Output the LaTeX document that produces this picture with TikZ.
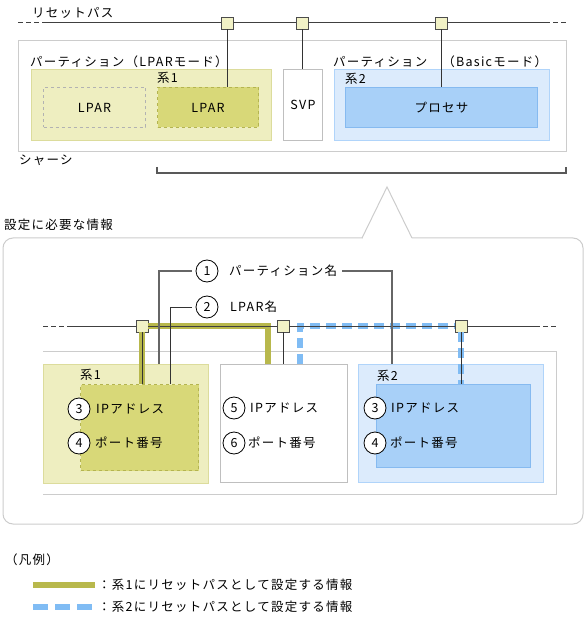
\documentclass[tikz,border=0pt]{standalone}
\usepackage{fontspec}
\setmainfont{Noto Sans CJK JP}[LetterSpace=10]
\usetikzlibrary{calc,backgrounds}
\definecolor{juncfill}{HTML}{F2F2C6}
\definecolor{sysonefill}{HTML}{EEEEC0}
\definecolor{sysoneline}{HTML}{DCDC9C}
\definecolor{lparfill}{HTML}{D8D878}
\definecolor{lparline}{HTML}{B4B450}
\definecolor{systwofill}{HTML}{DCEBFC}
\definecolor{systwoline}{HTML}{B0D4FA}
\definecolor{procfill}{HTML}{A8D0F8}
\definecolor{procline}{HTML}{86BAF0}
\definecolor{pathonecolor}{HTML}{B8B84C}
\definecolor{pathtwocolor}{HTML}{80BCF4}
\definecolor{framegray}{HTML}{CCCCCC}
\newcommand{\pathwidth}{6pt}
\tikzset{
  junc/.style={draw=black!70, fill=juncfill, line width=0.8pt, minimum size=12pt},
  boxnode/.style={anchor=north west, line width=1pt},
  sysone/.style={boxnode, draw=sysoneline, fill=sysonefill},
  lparlight/.style={boxnode, draw=black!30, dashed, fill=sysonefill},
  lpardark/.style={boxnode, draw=lparline, dashed, fill=lparfill},
  svpbox/.style={boxnode, draw=black!25, fill=white},
  systwo/.style={boxnode, draw=systwoline, fill=systwofill},
  procbox/.style={boxnode, draw=procline, fill=procfill},
  rline/.style={draw=black!75, line width=1pt},
  rdash/.style={rline, dash pattern=on 5pt off 3pt},
  link/.style={draw=black!80, line width=1pt},
  pathone/.style={draw=pathonecolor, line width=\pathwidth, line join=miter},
  pathtwo/.style={draw=pathtwocolor, line width=\pathwidth, dash pattern=on 10pt off 6pt},
  num/.style={circle, draw, fill=white, line width=0.8pt, minimum size=22pt},
  label/.style={anchor=west}
}
\begin{document}
\begin{tikzpicture}[x=1pt, y=-1pt, every node/.style={inner sep=0pt}, font=\fontsize{12.5}{14}\selectfont]
\useasboundingbox (0,0) rectangle (587,617);

% upper part
\node[label] (rptitle) at (32,13) {リセットパス};
\draw[framegray, line width=1pt] (18,41) rectangle (566,152);
\node[label] (pt1) at (30,62) {パーティション（LPARモード）};
\node[sysone, minimum width=240, minimum height=71] (s1) at (31,69) {};
\node[label] at (157,78) {系1};
\node[lparlight, minimum width=102, minimum height=40] (lp1) at (43,87) {LPAR};
\node[lpardark, minimum width=101, minimum height=40] (lp2) at (157,87) {LPAR};
\node[svpbox, minimum width=39, minimum height=71] (svp) at (283,69) {SVP};
\node[label] (pt2) at (333,62) {パーティション　（Basicモード）};
\node[systwo, minimum width=215, minimum height=71] (s2) at (334,69) {};
\node[label] at (345,79) {系2};
\node[procbox, minimum width=192, minimum height=40] (pr) at (345,87) {プロセサ};
\node[label] (chassis) at (19,160) {シャーシ};
\draw[black!65, line width=1.3pt] (157,167) -- (157,173) -- (566,173) -- (566,167);

\node[junc] (j1) at (227,23) {};
\node[junc] (j2) at (302,23) {};
\node[junc] (j3) at (441,23) {};
\coordinate (rw) at (18,23);
\coordinate (rw2) at (42,23);
\coordinate (re2) at (545,23);
\coordinate (re) at (568,23);
\draw[rdash] (rw) -- (rw2);
\draw[rline] (rw2) -- (j1) -- (j2) -- (j3) -- (re2);
\draw[rdash] (re2) -- (re);
\draw[link] (j1) -- (j1 |- lp2.north);
\draw[link] (j2) -- (j2 |- svp.north);
\draw[link] (j3) -- (j3 |- pr.north);

% callout frame
\node[label] (info) at (4,225) {設定に必要な情報};
\draw[framegray, line width=1pt, rounded corners=10pt] (3,238) rectangle (583,524);
\fill[white] (362.5,236) rectangle (411.5,240);
\draw[framegray, line width=1pt] (362,238) -- (387,187) -- (412,238);

% lower part
\draw[framegray, line width=1pt] (43,351) -- (556,351) -- (556,494) -- (43,494);
\node[sysone, minimum width=165, minimum height=119] (s1b) at (43,364) {};
\node[label] at (80,375) {系1};
\node[lpardark, minimum width=118, minimum height=86] (lp3) at (80,384) {};
\node[svpbox, minimum width=127, minimum height=118] (svpb) at (220,364) {};
\node[systwo, minimum width=185, minimum height=118] (s2b) at (358,364) {};
\node[label] at (377,376) {系2};
\node[procbox, minimum width=154, minimum height=83] (prb) at (376,384) {};

\node[num] (n3a) at (79,409) {3};
\node[label] at (96,409) {IPアドレス};
\node[num] (n4a) at (79,443) {4};
\node[label] at (95,443) {ポート番号};
\node[num] (n5) at (234,408) {5};
\node[label] at (250,408) {IPアドレス};
\node[num] (n6) at (234,443) {6};
\node[label] at (248,443) {ポート番号};
\node[num] (n3b) at (375,408) {3};
\node[label] at (391,408) {IPアドレス};
\node[num] (n4b) at (375,443) {4};
\node[label] at (390,443) {ポート番号};

\node[num] (n1) at (207,271) {1};
\node[label] (l1) at (229,271) {パーティション名};
\node[num] (n2) at (207,307) {2};
\node[label] (l2) at (230,307) {LPAR名};

\node[junc] (k1) at (142,326) {};
\node[junc] (k2) at (283,326) {};
\node[junc] (k3) at (461,326) {};
\coordinate (b1) at (268,326);
\coordinate (b2) at (300,326);
\draw[pathone] (k1.east) -- (b1) -- (b1 |- svpb.north);
\draw[pathone] (k1.south) -- (k1.south |- lp3.north);
\draw[pathtwo] (b2 |- svpb.north) -- (b2) -- (k3.west);
\draw[pathtwo] (k3.south) -- (k3.south |- prb.north);

\coordinate (kw) at (43,326);
\coordinate (kw2) at (68,326);
\coordinate (ke2) at (535,326);
\coordinate (ke) at (556,326);
\draw[rdash] (kw) -- (kw2);
\draw[rline] (kw2) -- (k1) -- (k2) -- (k3) -- (ke2);
\draw[rdash] (ke2) -- (ke);
\draw[link] (k1) -- (k1 |- lp3.north);
\draw[link] (k2) -- (k2 |- svpb.north);
\draw[link] (k3) -- (k3 |- prb.north);

\coordinate (a1) at (159,271);
\coordinate (a2) at (392,271);
\coordinate (a3) at (170,307);
\draw[black!60, line width=1.2pt, shorten <=4pt] (n1) -- (a1) -- (a1 |- s1b.north);
\draw[black!60, line width=1.2pt, shorten <=5pt] (l1) -- (a2) -- (a2 |- s2b.north);
\draw[link, shorten <=4pt] (n2) -- (a3) -- (a3 |- lp3.north);

% legend
\node[label] (lg) at (5,560) {（凡例）};
\coordinate (g1a) at (33,585);
\coordinate (g1b) at (95,585);
\coordinate (g2a) at (33,607);
\coordinate (g2b) at (92,607);
\draw[pathone] (g1a) -- (g1b);
\draw[pathtwo, dash pattern=on 15pt off 7pt] (g2a) -- (g2b);
\node[label] (lg1) at (98,585) {：系1にリセットパスとして設定する情報};
\node[label] (lg2) at (98,607) {：系2にリセットパスとして設定する情報};
\end{tikzpicture}
\end{document}
